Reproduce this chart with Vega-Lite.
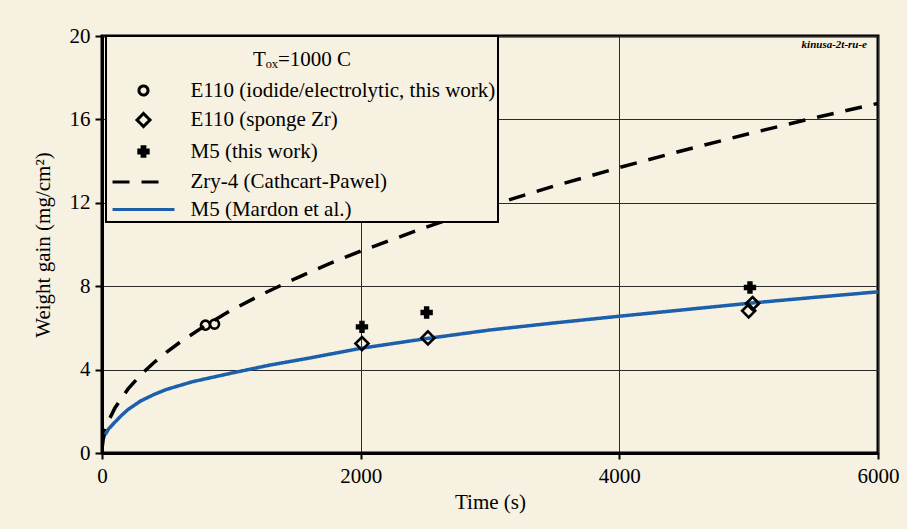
{
  "$schema": "https://vega.github.io/schema/vega-lite/v6.json",
  "width": 776,
  "height": 417,
  "autosize": {"type": "none"},
  "padding": {"left": 102, "top": 36, "right": 29, "bottom": 76},
  "background": "#f6f1e1",
  "title": {
    "text": "kinusa-2t-ru-e",
    "orient": "top",
    "anchor": "end",
    "frame": "group",
    "offset": -25,
    "dx": -11,
    "font": "Liberation Serif",
    "fontSize": 11,
    "fontStyle": "italic",
    "fontWeight": "bold",
    "color": "black"
  },
  "datasets": {
    "curves": [
      {"series": "Zry-4 (Cathcart-Pawel)", "t": 3, "w": 0.35},
      {"series": "Zry-4 (Cathcart-Pawel)", "t": 10, "w": 0.68},
      {"series": "Zry-4 (Cathcart-Pawel)", "t": 25, "w": 1.08},
      {"series": "Zry-4 (Cathcart-Pawel)", "t": 50, "w": 1.53},
      {"series": "Zry-4 (Cathcart-Pawel)", "t": 100, "w": 2.16},
      {"series": "Zry-4 (Cathcart-Pawel)", "t": 200, "w": 3.06},
      {"series": "Zry-4 (Cathcart-Pawel)", "t": 300, "w": 3.75},
      {"series": "Zry-4 (Cathcart-Pawel)", "t": 400, "w": 4.33},
      {"series": "Zry-4 (Cathcart-Pawel)", "t": 500, "w": 4.84},
      {"series": "Zry-4 (Cathcart-Pawel)", "t": 600, "w": 5.3},
      {"series": "Zry-4 (Cathcart-Pawel)", "t": 800, "w": 6.12},
      {"series": "Zry-4 (Cathcart-Pawel)", "t": 1000, "w": 6.85},
      {"series": "Zry-4 (Cathcart-Pawel)", "t": 1250, "w": 7.65},
      {"series": "Zry-4 (Cathcart-Pawel)", "t": 1500, "w": 8.38},
      {"series": "Zry-4 (Cathcart-Pawel)", "t": 1750, "w": 9.06},
      {"series": "Zry-4 (Cathcart-Pawel)", "t": 2000, "w": 9.68},
      {"series": "Zry-4 (Cathcart-Pawel)", "t": 2500, "w": 10.82},
      {"series": "Zry-4 (Cathcart-Pawel)", "t": 3000, "w": 11.86},
      {"series": "Zry-4 (Cathcart-Pawel)", "t": 3500, "w": 12.81},
      {"series": "Zry-4 (Cathcart-Pawel)", "t": 4000, "w": 13.69},
      {"series": "Zry-4 (Cathcart-Pawel)", "t": 4500, "w": 14.52},
      {"series": "Zry-4 (Cathcart-Pawel)", "t": 5000, "w": 15.31},
      {"series": "Zry-4 (Cathcart-Pawel)", "t": 5500, "w": 16.06},
      {"series": "Zry-4 (Cathcart-Pawel)", "t": 6000, "w": 16.77},
      {"series": "M5 (Mardon et al.)", "t": 25, "w": 0.88},
      {"series": "M5 (Mardon et al.)", "t": 50, "w": 1.15},
      {"series": "M5 (Mardon et al.)", "t": 100, "w": 1.48},
      {"series": "M5 (Mardon et al.)", "t": 150, "w": 1.8},
      {"series": "M5 (Mardon et al.)", "t": 200, "w": 2.08},
      {"series": "M5 (Mardon et al.)", "t": 300, "w": 2.5},
      {"series": "M5 (Mardon et al.)", "t": 400, "w": 2.8},
      {"series": "M5 (Mardon et al.)", "t": 500, "w": 3.05},
      {"series": "M5 (Mardon et al.)", "t": 700, "w": 3.42},
      {"series": "M5 (Mardon et al.)", "t": 1000, "w": 3.83},
      {"series": "M5 (Mardon et al.)", "t": 1300, "w": 4.22},
      {"series": "M5 (Mardon et al.)", "t": 1600, "w": 4.55},
      {"series": "M5 (Mardon et al.)", "t": 2000, "w": 5.02},
      {"series": "M5 (Mardon et al.)", "t": 2500, "w": 5.48},
      {"series": "M5 (Mardon et al.)", "t": 3000, "w": 5.9},
      {"series": "M5 (Mardon et al.)", "t": 3500, "w": 6.24},
      {"series": "M5 (Mardon et al.)", "t": 4000, "w": 6.56},
      {"series": "M5 (Mardon et al.)", "t": 4500, "w": 6.87},
      {"series": "M5 (Mardon et al.)", "t": 5000, "w": 7.18},
      {"series": "M5 (Mardon et al.)", "t": 5500, "w": 7.46},
      {"series": "M5 (Mardon et al.)", "t": 6000, "w": 7.73}
    ],
    "points": [
      {"series": "E110 (iodide/electrolytic, this work)", "t": 800, "w": 6.13},
      {"series": "E110 (iodide/electrolytic, this work)", "t": 870, "w": 6.18},
      {"series": "E110 (sponge Zr)", "t": 2010, "w": 5.25},
      {"series": "E110 (sponge Zr)", "t": 2520, "w": 5.52},
      {"series": "E110 (sponge Zr)", "t": 5030, "w": 7.17},
      {"series": "E110 (sponge Zr)", "t": 5000, "w": 6.82},
      {"series": "M5 (this work)", "t": 2010, "w": 6.05},
      {"series": "M5 (this work)", "t": 2510, "w": 6.74},
      {"series": "M5 (this work)", "t": 5010, "w": 7.94}
    ]
  },
  "encoding": {
    "x": {
      "field": "t",
      "type": "quantitative",
      "scale": {"domain": [0, 6000], "nice": false},
      "axis": {"values": [0, 2000, 4000, 6000], "format": "d", "title": "Time (s)", "tickSize": 6, "labelPadding": 6, "titlePadding": 5}
    },
    "y": {
      "field": "w",
      "type": "quantitative",
      "scale": {"domain": [0, 20], "nice": false},
      "axis": {"values": [0, 4, 8, 12, 16, 20], "title": "Weight gain (mg/cm²)", "tickSize": 7, "labelPadding": 5, "titlePadding": 16}
    }
  },
  "layer": [
    {
      "data": {"name": "curves"},
      "mark": {"type": "line", "strokeWidth": 3.5, "clip": true},
      "encoding": {
        "stroke": {
          "field": "series",
          "type": "nominal",
          "scale": {
            "domain": ["E110 (iodide/electrolytic, this work)", "E110 (sponge Zr)", "M5 (this work)", "Zry-4 (Cathcart-Pawel)", "M5 (Mardon et al.)"],
            "range": ["black", "black", "black", "black", "#1c5fab"]
          },
          "legend": {"title": "Tₒₓ=1000 C"}
        },
        "strokeDash": {
          "field": "series",
          "type": "nominal",
          "scale": {
            "domain": ["E110 (iodide/electrolytic, this work)", "E110 (sponge Zr)", "M5 (this work)", "Zry-4 (Cathcart-Pawel)", "M5 (Mardon et al.)"],
            "range": [[1, 0], [1, 0], [1, 0], [17, 12], [1, 0]]
          },
          "legend": {"title": "Tₒₓ=1000 C"}
        }
      }
    },
    {
      "data": {"name": "points"},
      "mark": {"type": "point", "filled": false, "opacity": 1, "size": 441, "strokeWidth": 2.6},
      "encoding": {
        "shape": {
          "field": "series",
          "type": "nominal",
          "scale": {
            "domain": ["E110 (iodide/electrolytic, this work)", "E110 (sponge Zr)", "M5 (this work)", "Zry-4 (Cathcart-Pawel)", "M5 (Mardon et al.)"],
            "range": [
              "M0.43,0A0.43,0.43,0,1,1,-0.43,0A0.43,0.43,0,1,1,0.43,0Z",
              "M0,-0.62L0.62,0L0,0.62L-0.62,0Z",
              "M-0.59,0L0.59,0M0,-0.59L0,0.59M-0.59,-0.133L0.59,-0.133M-0.59,0.133L0.59,0.133M-0.133,-0.59L-0.133,0.59M0.133,-0.59L0.133,0.59",
              "M-2.95,0L1.48,0",
              "M-2.95,0L2.95,0"
            ]
          },
          "legend": {"title": "Tₒₓ=1000 C"}
        },
        "stroke": {
          "field": "series",
          "type": "nominal",
          "legend": {"title": "Tₒₓ=1000 C"}
        }
      }
    }
  ],
  "config": {
    "font": "Liberation Serif",
    "view": {"stroke": "black", "strokeWidth": 3, "fill": "#f6f1e1"},
    "axis": {
      "grid": true,
      "gridColor": "#2a2a2a",
      "gridWidth": 1,
      "gridOpacity": 1,
      "domainColor": "black",
      "domainWidth": 3,
      "tickColor": "black",
      "tickWidth": 2,
      "labelFont": "Liberation Serif",
      "labelFontSize": 21,
      "labelColor": "black",
      "labelFlush": false,
      "labelOverlap": false,
      "titleFont": "Liberation Serif",
      "titleFontSize": 21,
      "titleFontWeight": "normal",
      "titleColor": "black"
    },
    "legend": {
      "orient": "none",
      "legendX": 4,
      "legendY": 0,
      "padding": 2,
      "fillColor": "#f6f1e1",
      "strokeColor": "black",
      "strokeWidth": 2,
      "symbolSize": 441,
      "symbolOffset": 23.5,
      "symbolStrokeWidth": 3,
      "symbolOpacity": 1,
      "labelOffset": 35,
      "labelFont": "Liberation Serif",
      "labelFontSize": 21,
      "labelColor": "black",
      "labelLimit": 500,
      "rowPadding": 5.5,
      "titleFont": "Liberation Serif",
      "titleFontSize": 21,
      "titleFontWeight": "normal",
      "titleColor": "black",
      "titleAnchor": "middle",
      "titleBaseline": "line-top",
      "titleLineHeight": 43,
      "titlePadding": 19.5
    }
  }
}
